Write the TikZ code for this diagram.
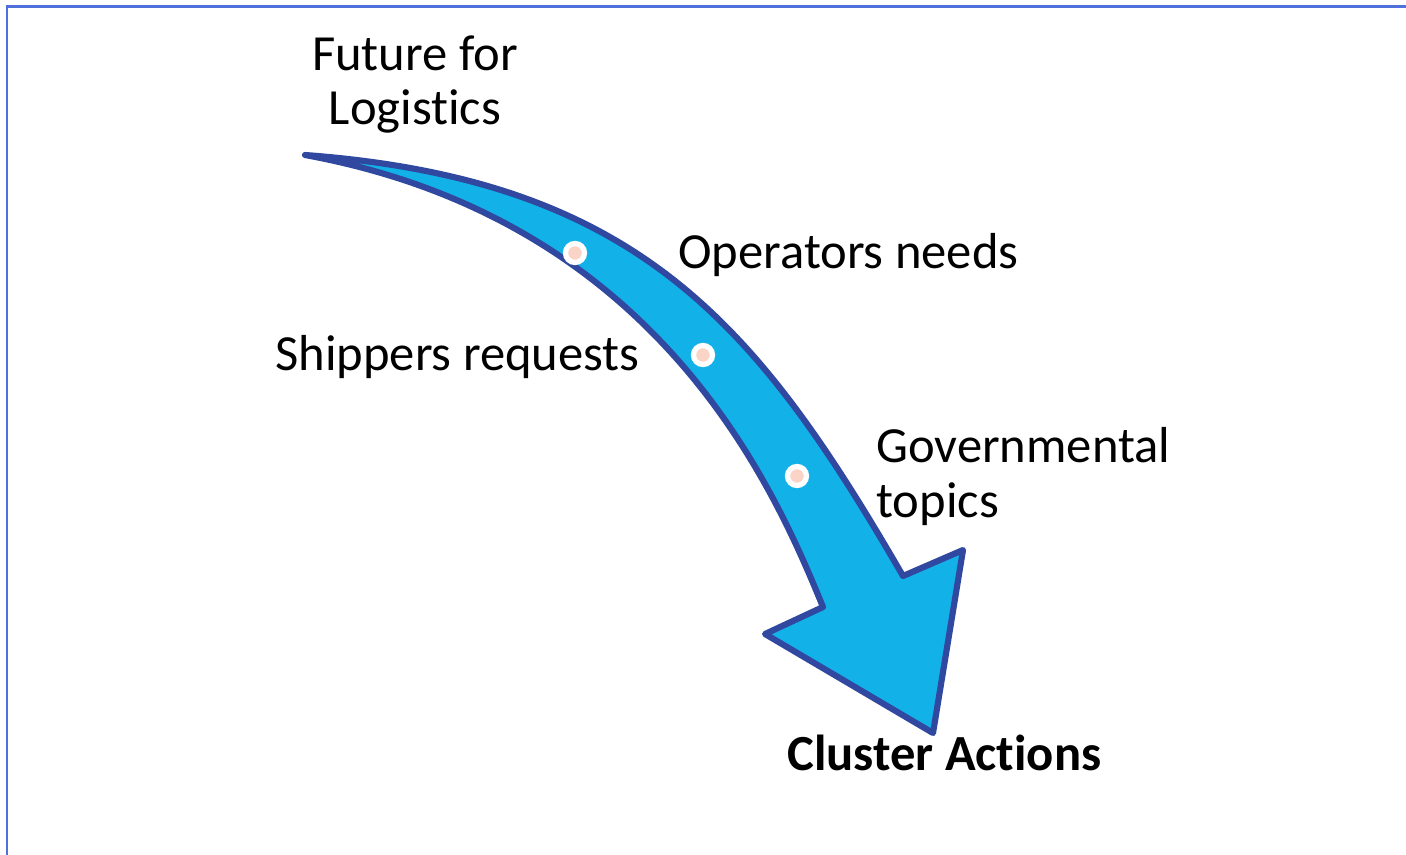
\documentclass[tikz,border=0pt]{standalone}
\usepackage{fontspec}
\setmainfont{Carlito}[Ligatures=NoCommon]
\usepackage{xcolor}
\definecolor{arrowfill}{RGB}{18,178,232}
\definecolor{arrowline}{RGB}{48,72,160}
\definecolor{frameline}{RGB}{80,112,220}
\definecolor{dotfill}{RGB}{250,212,198}
\tikzset{
  lbl/.style={font=\fontsize{28.8}{31.2}\selectfont, inner sep=0pt},
  boldlbl/.style={font=\fontsize{28.8}{31.2}\selectfont\bfseries, inner sep=0pt},
  arrowbody/.style={fill=arrowfill, draw=arrowline, line width=3.5pt, line join=round},
  dot/.style={circle, fill=dotfill, draw=white, line width=3pt, minimum size=0.38cm, inner sep=0pt},
}

\begin{document}
\begin{tikzpicture}[x=0.02cm, y=-0.02cm]

  \useasboundingbox (0,0) rectangle (1406,855);

  % Frame
  \draw[frameline, line width=0.06cm] (7,855) -- (7,7) -- (1406,7);

  % Curved arrow
  \draw[arrowbody] (305,155) .. controls (640,180) and (758,326) .. (903,576)
    -- (963,550) -- (933,733) -- (765,634) -- (823,607)
    .. controls (775,490) and (660,220) .. (305,155) -- cycle;

  % Dots
  \node[dot] (d1) at (575,253) {};
  \node[dot] (d2) at (703,355) {};
  \node[dot] (d3) at (797,476) {};

  % Labels
  \node[lbl, align=center, anchor=base] (future)    at (415,125) {Future for\\Logistics};
  \node[lbl, anchor=base west]          (operators) at (678,268) {Operators needs};
  \node[lbl, anchor=base west]          (shippers)  at (275,370) {Shippers requests};
  \node[lbl, align=left, anchor=base west] (gov)    at (876,517) {Governmental\\topics};
  \node[boldlbl, anchor=base west]      (cluster)   at (787,770) {Cluster Actions};

\end{tikzpicture}
\end{document}
